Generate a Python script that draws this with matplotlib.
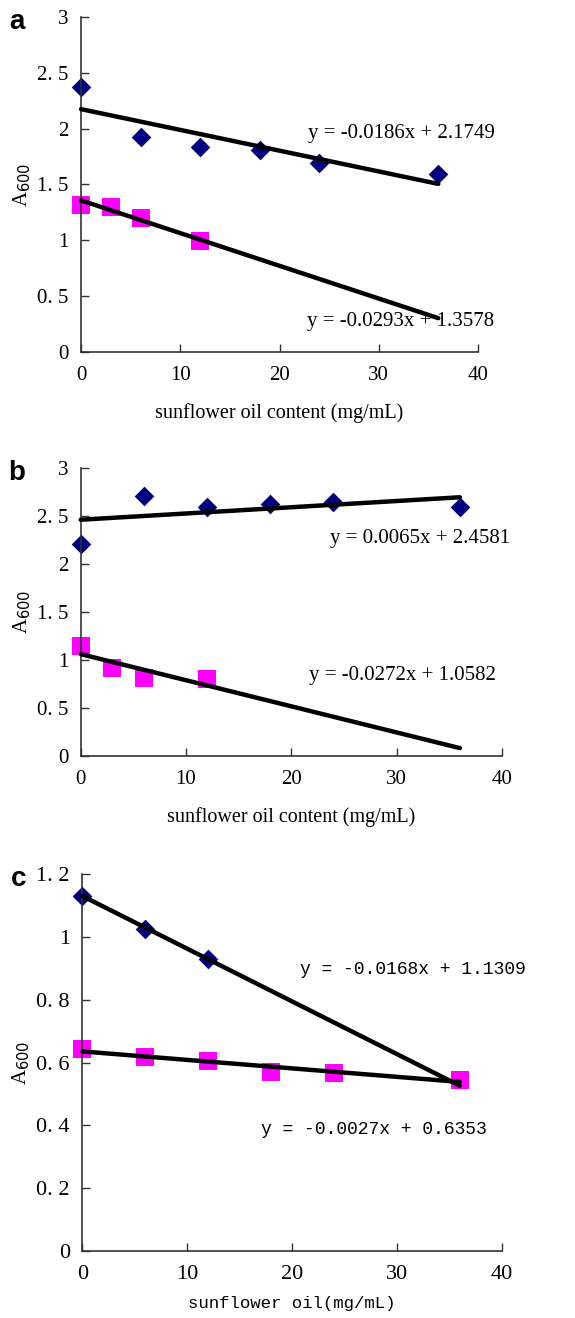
import matplotlib
matplotlib.use("Agg")
import matplotlib.pyplot as plt
import numpy as np

# ---- data ----
a_x_blue = [0, 6, 12, 18, 24, 36]
a_y_blue = [2.375, 1.927, 1.835, 1.81, 1.69, 1.595]
a_x_pink = [0, 3, 6, 12]
a_y_pink = [1.32, 1.30, 1.198, 0.995]
a_fit = [(-0.0186, 2.1749), (-0.0293, 1.3578)]
a_eq = ["y = -0.0186x + 2.1749", "y = -0.0293x + 1.3578"]

b_x_blue = [0, 6, 12, 18, 24, 36]
b_y_blue = [2.21, 2.71, 2.587, 2.62, 2.646, 2.594]
b_x_pink = [0, 3, 6, 12]
b_y_pink = [1.146, 0.91, 0.806, 0.795]
b_fit = [(0.0065, 2.4581), (-0.0272, 1.0582)]
b_eq = ["y = 0.0065x + 2.4581", "y = -0.0272x + 1.0582"]

c_x_blue = [0, 6, 12]
c_y_blue = [1.132, 1.025, 0.930]
c_x_pink = [0, 6, 12, 18, 24, 36]
c_y_pink = [0.642, 0.6165, 0.606, 0.569, 0.565, 0.544]
c_fit = [(-0.0168, 1.1309), (-0.0027, 0.6353)]
c_eq = ["y = -0.0168x + 1.1309", "y = -0.0027x + 0.6353"]

fit_range = [0, 36]
x_ticks = [0, 10, 20, 30, 40]
ab_yticks = [0, 0.5, 1, 1.5, 2, 2.5, 3]
ab_ylabels = ["0", "0. 5", "1", "1. 5", "2", "2. 5", "3"]
c_yticks = [0, 0.2, 0.4, 0.6, 0.8, 1.0, 1.2]
c_ylabels = ["0", "0. 2", "0. 4", "0. 6", "0. 8", "1", "1. 2"]

W, H = 575, 1318
fig = plt.figure(figsize=(W / 100, H / 100), dpi=100)

SERIF = "Liberation Serif"
MONO = "Liberation Mono"
NAVY = "#000080"
PINK = "#FF00FF"


def make_panel(rect, xb, yb, xp, yp, fits, eqs, eqpos, yticks, ylabels, ylim,
               xlabel, xlabel_font, xlabel_size, xlabel_pad, eq_font, eq_size,
               letter, tick_size):
    ax = fig.add_axes(rect)
    ax.scatter(xb, yb, marker="D", s=100, color=NAVY, zorder=2, linewidths=0,
               clip_on=False)
    ax.scatter(xp, yp, marker="s", s=180, color=PINK, zorder=2, linewidths=0,
               clip_on=False)
    for (m, b) in fits:
        xs = np.array(fit_range, dtype=float)
        ax.plot(xs, m * xs + b, color="black", lw=3.2, zorder=3,
                solid_capstyle="round", clip_on=False)
    for t, (ex, ey) in zip(eqs, eqpos):
        ax.text(ex, ey, t, fontsize=eq_size, family=eq_font, va="center",
                ha="left", zorder=4, clip_on=False)
    ax.set_xlim(0, 40)
    ax.set_ylim(*ylim)
    ax.set_xticks(x_ticks)
    ax.set_xticklabels([str(t) for t in x_ticks], family=SERIF, fontsize=tick_size)
    ax.set_yticks(yticks)
    ax.set_yticklabels(ylabels, family=SERIF, fontsize=tick_size)
    ax.tick_params(direction="in", length=6, width=1, color="#333333", pad=9)
    ax.tick_params(axis="x", pad=10)
    for s in ["top", "right"]:
        ax.spines[s].set_visible(False)
    for s in ["left", "bottom"]:
        ax.spines[s].set_color("#333333")
        ax.spines[s].set_linewidth(1.2)
    ax.set_xlabel(xlabel, family=xlabel_font, fontsize=xlabel_size,
                  labelpad=xlabel_pad)
    ax.set_ylabel("A$_{600}$", family=SERIF, fontsize=15, labelpad=3)
    ax.text(-64 / (rect[2] * W), 1.0 - 5 / (rect[3] * H), letter,
            transform=ax.transAxes, fontsize=20, fontweight="bold",
            family="Liberation Sans", ha="center", va="center")
    return ax


make_panel([81 / W, 1 - 352 / H, 397 / W, 335 / H],
           a_x_blue, a_y_blue, a_x_pink, a_y_pink, a_fit, a_eq,
           [(22.9, 1.96), (22.8, 0.27)], ab_yticks, ab_ylabels, (0, 3),
           "sunflower oil content (mg/mL)", SERIF, 14.5, 13, SERIF, 15, "a", 15)

make_panel([80.7 / W, 1 - 755.7 / H, 421.3 / W, 288 / H],
           b_x_blue, b_y_blue, b_x_pink, b_y_pink, b_fit, b_eq,
           [(23.7, 2.265), (21.7, 0.84)], ab_yticks, ab_ylabels, (0, 3),
           "sunflower oil content (mg/mL)", SERIF, 14.5, 13, SERIF, 15, "b", 15)

make_panel([82.3 / W, 1 - 1250.7 / H, 419.4 / W, 376.4 / H],
           c_x_blue, c_y_blue, c_x_pink, c_y_pink, c_fit, c_eq,
           [(20.8, 0.895), (17.0, 0.387)], c_yticks, c_ylabels, (0, 1.2),
           "sunflower oil(mg/mL)", MONO, 12.5, 9, MONO, 13, "c", 16)

fig.savefig("out.png", dpi=100)
